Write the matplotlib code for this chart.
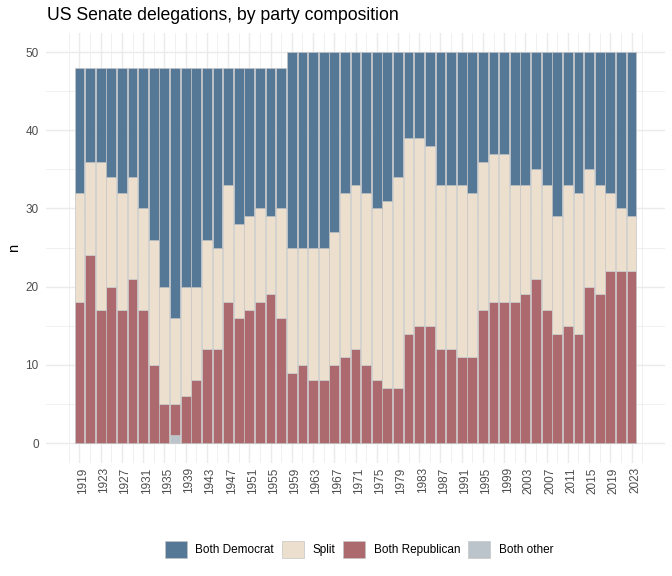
import numpy as np
import matplotlib
matplotlib.use('Agg')
import matplotlib.pyplot as plt
import matplotlib.transforms as mtransforms
from matplotlib.patches import Patch

# senate delegations per congress (two senators per state)
years = [1919, 1921, 1923, 1925, 1927, 1929, 1931, 1933, 1935, 1937,
         1939, 1941, 1943, 1945, 1947, 1949, 1951, 1953, 1955, 1957,
         1959, 1961, 1963, 1965, 1967, 1969, 1971, 1973, 1975, 1977,
         1979, 1981, 1983, 1985, 1987, 1989, 1991, 1993, 1995, 1997,
         1999, 2001, 2003, 2005, 2007, 2009, 2011, 2013, 2015, 2017,
         2019, 2021, 2023]

both_other = [0, 0, 0, 0, 0, 0, 0, 0, 0, 1,
              0, 0, 0, 0, 0, 0, 0, 0, 0, 0,
              0, 0, 0, 0, 0, 0, 0, 0, 0, 0,
              0, 0, 0, 0, 0, 0, 0, 0, 0, 0,
              0, 0, 0, 0, 0, 0, 0, 0, 0, 0,
              0, 0, 0]

both_rep = [18, 24, 17, 20, 17, 21, 17, 10, 5, 4,
            6, 8, 12, 12, 18, 16, 17, 18, 19, 16,
            9, 10, 8, 8, 10, 11, 12, 10, 8, 7,
            7, 14, 15, 15, 12, 12, 11, 11, 17, 18,
            18, 18, 19, 21, 17, 14, 15, 14, 20, 19,
            22, 22, 22]

split = [14, 12, 19, 14, 15, 13, 13, 16, 15, 11,
         14, 12, 14, 13, 15, 12, 12, 12, 10, 14,
         16, 15, 17, 17, 17, 21, 21, 22, 22, 24,
         27, 25, 24, 23, 21, 21, 22, 21, 19, 19,
         19, 15, 14, 14, 16, 15, 18, 18, 15, 14,
         10, 8, 7]

both_dem = [16, 12, 12, 14, 16, 14, 18, 22, 28, 32,
            28, 28, 22, 23, 15, 20, 19, 18, 19, 18,
            25, 25, 25, 25, 23, 18, 17, 18, 20, 19,
            16, 11, 11, 12, 17, 17, 17, 18, 14, 13,
            13, 17, 17, 15, 17, 21, 17, 18, 15, 17,
            18, 20, 21]

tick_years = [1919, 1923, 1927, 1931, 1935, 1939, 1943, 1947, 1951, 1955,
              1959, 1963, 1967, 1971, 1975, 1979, 1983, 1987, 1991, 1995,
              1999, 2003, 2007, 2011, 2015, 2019, 2023]

series = [('Both other', both_other, '#BCC4CB'),
          ('Both Republican', both_rep, '#AD6A6E'),
          ('Split', split, '#EDDFCD'),
          ('Both Democrat', both_dem, '#557896')]
legend_order = ['Both Democrat', 'Split', 'Both Republican', 'Both other']

plt.rcParams['font.family'] = ['Liberation Sans', 'DejaVu Sans']

fig = plt.figure(figsize=(7, 6), dpi=96)
ax = fig.add_axes([46/672, 1-462.6/576, (665-46)/672, (462.6-32.5)/576])

x = np.array(years)
bottom = np.zeros(len(years))
for name, vals, col in series:
    vals = np.array(vals)
    ax.bar(x, vals, width=1.85, bottom=bottom, color=col,
           edgecolor='#C4C4C4', linewidth=0.5, zorder=2)
    bottom = bottom + vals

# ggplot style expansion
lo, hi = years[0] - 1, years[-1] + 1
pad = 0.05 * (hi - lo)
ax.set_xlim(lo - pad, hi + pad)
ax.set_ylim(-2.5, 52.5)

ax.set_xticks(tick_years)
ax.set_xticklabels([str(y) for y in tick_years], rotation=90)
ax.set_xticks([y - 2 for y in tick_years] + [tick_years[-1] + 2], minor=True)
ax.set_yticks([0, 10, 20, 30, 40, 50])
ax.set_yticks([5, 15, 25, 35, 45], minor=True)

ax.grid(which='major', color='#EBEBEB', linewidth=1.07, zorder=0)
ax.grid(which='minor', color='#EBEBEB', linewidth=0.53, zorder=0)
ax.set_axisbelow(True)
for s in ax.spines.values():
    s.set_visible(False)
ax.tick_params(which='both', length=0, labelsize=8.8, labelcolor='#4D4D4D')
ax.tick_params(axis='x', pad=3.5)
ax.tick_params(axis='y', pad=5.5)

# ggplot centres the rotated label box, nudge glyphs a little right
shift = mtransforms.ScaledTranslation(3.5/96, 0, fig.dpi_scale_trans)
for lab in ax.get_xticklabels():
    lab.set_transform(lab.get_transform() + shift)

fig.text(47/672, 1-20.5/576, 'US Senate delegations, by party composition',
         fontsize=13.2, va='baseline', ha='left')
fig.text(14/672, 1-247.5/576, 'n', rotation=90, fontsize=11,
         va='center', ha='center')

colors = {name: col for name, vals, col in series}
handles = [Patch(facecolor=colors[n], edgecolor='#C4C4C4', linewidth=0.5, label=n)
           for n in legend_order]
fig.legend(handles=handles, loc='center', bbox_to_anchor=(359/672, 1-549.7/576),
           ncol=4, frameon=False, fontsize=8.8, handlelength=1.9, handleheight=1.9,
           handletextpad=0.72, columnspacing=0.66, borderpad=0, borderaxespad=0)

fig.savefig('out.png', dpi=96)
